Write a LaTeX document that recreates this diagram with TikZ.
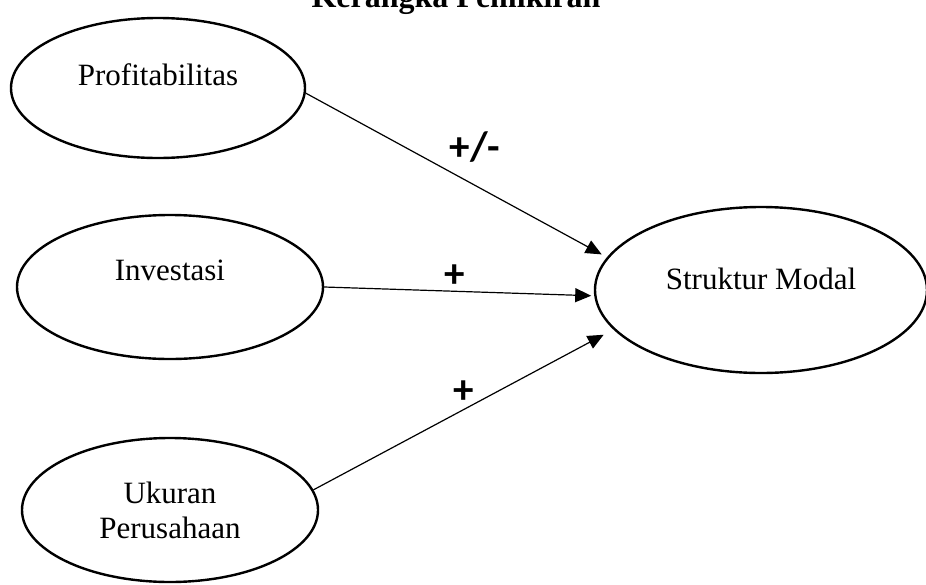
\documentclass[tikz,border=0pt]{standalone}
\usepackage{fontspec}
\setmainfont{Liberation Serif}
\newfontfamily\signfont{Carlito}
\usetikzlibrary{shapes.geometric,arrows.meta}
\tikzset{
  var/.style={draw, ellipse, line width=2.4pt, inner sep=0pt, align=center,
    font=\fontsize{31}{35}\selectfont},
  line/.style={draw, line width=1.2pt, -{Triangle[length=16pt,width=14pt]}},
  sign/.style={font=\signfont\bfseries\fontsize{41}{41}\selectfont}
}

\begin{document}
\begin{tikzpicture}[x=1pt, y=-1pt]
        \useasboundingbox (0,0) rectangle (926,584);
        \node[anchor=base, font=\bfseries\fontsize{32}{36}\selectfont] (title) at (456,7) {Kerangka Pemikiran};
        \node[var, minimum width=294pt, minimum height=140pt, text height=22pt, text depth=27pt] (prof) at (158,88) {Profitabilitas};
        \node[var, minimum width=306pt, minimum height=144pt, text height=22pt, text depth=35pt] (inv) at (170,287) {Investasi};
        \node[var, minimum width=296pt, minimum height=144pt] (size) at (170,510) {Ukuran\\Perusahaan};
        \node[var, minimum width=332pt, minimum height=166pt, text height=22pt, text depth=23pt] (struk) at (761,290) {Struktur Modal};
        \node[sign] (s1) at (475,147) {+/-};
        \node[sign] (s2) at (455,276) {+};
        \node[sign] (s3) at (464,392) {+};
        \path[line, shorten >=6pt] (prof.-2) -- (struk.168);
        \path[line, shorten >=3pt] (inv.east) -- (struk.182);
        \path[line, shorten >=11pt] (size.8) -- (struk.195);
\end{tikzpicture}
\end{document}
